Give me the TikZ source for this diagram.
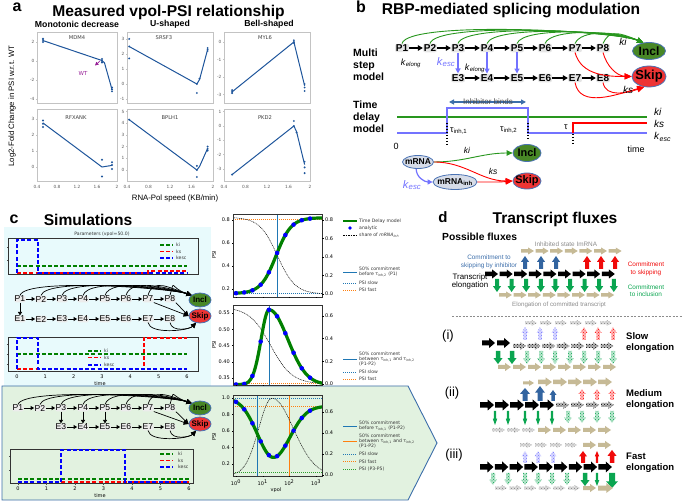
\documentclass[tikz,border=0pt]{standalone}
\usepackage{fontspec}
\setmainfont{Liberation Sans}
\newfontfamily\mpl{DejaVu Sans}
\usetikzlibrary{arrows.meta,patterns,shapes.geometric,calc}
\definecolor{dblue}{RGB}{30,85,155}
\definecolor{inclg}{RGB}{72,135,38}
\definecolor{skipr}{RGB}{238,52,52}
\definecolor{kblue}{RGB}{115,115,255}
\definecolor{ellb}{RGB}{75,115,180}
\definecolor{mrnaf}{RGB}{214,220,232}
\definecolor{tanc}{RGB}{198,186,150}
\definecolor{fblue}{RGB}{50,100,160}
\definecolor{fred}{RGB}{240,10,10}
\definecolor{fgreen}{RGB}{10,165,80}
\definecolor{cyanbg}{RGB}{232,250,252}
\definecolor{greenbg}{RGB}{226,242,224}
\definecolor{tabblue}{RGB}{31,119,180}
\definecolor{taborange}{RGB}{255,127,14}
\definecolor{tabgreen}{RGB}{44,160,44}
\definecolor{tickgray}{RGB}{90,90,90}
\definecolor{framegray}{RGB}{195,195,195}
\definecolor{steel}{RGB}{60,110,170}
\definecolor{magent}{RGB}{150,30,150}
\definecolor{arcg}{RGB}{40,150,30}
\definecolor{psig}{RGB}{0,128,0}
\newcommand\kk[1]{\textit{k}\textsubscript{\textit{#1}}}
\newcommand\RA[5]{\path[#5] (#1,#2-#4*0.25) -- (#1+#3*0.55,#2-#4*0.25) -- (#1+#3*0.55,#2-#4*0.5) -- (#1+#3,#2) -- (#1+#3*0.55,#2+#4*0.5) -- (#1+#3*0.55,#2+#4*0.25) -- (#1,#2+#4*0.25) -- cycle;}
\newcommand\UA[5]{\path[#5] (#1-#4*0.25,#2) -- (#1-#4*0.25,#2-#3*0.55) -- (#1-#4*0.5,#2-#3*0.55) -- (#1,#2-#3) -- (#1+#4*0.5,#2-#3*0.55) -- (#1+#4*0.25,#2-#3*0.55) -- (#1+#4*0.25,#2) -- cycle;}
\newcommand\DA[5]{\path[#5] (#1-#4*0.25,#2) -- (#1-#4*0.25,#2+#3*0.55) -- (#1-#4*0.5,#2+#3*0.55) -- (#1,#2+#3) -- (#1+#4*0.5,#2+#3*0.55) -- (#1+#4*0.25,#2+#3*0.55) -- (#1+#4*0.25,#2) -- cycle;}
\begin{document}
\begin{tikzpicture}[x=1pt,y=-1pt,
  plet/.style={font=\fontsize{16}{18}\selectfont\bfseries,inner sep=0},
  ttl/.style={font=\fontsize{15.6}{18}\selectfont\bfseries,inner sep=0},
  colh/.style={font=\fontsize{8.7}{10}\selectfont\bfseries,inner sep=0},
  abox/.style={draw=framegray,line width=0.5pt},
  atick/.style={font=\mpl\fontsize{4.3}{5}\selectfont,text=tickgray,inner sep=0},
  aline/.style={dblue,line width=1pt},
  adot/.style={fill=dblue},
  gname/.style={font=\mpl\fontsize{5.2}{6}\selectfont,text=black!75,inner sep=0},
  pn/.style={font=\fontsize{10}{12}\selectfont\bfseries,fill=gray!20,rounded corners=2pt,inner sep=0.8pt},
  trib/.style={-{Triangle[length=5pt,width=5.5pt]},line width=1.6pt},
  garc/.style={draw=arcg,line width=0.9pt,-{Triangle[length=6pt,width=5.5pt]}},
  rarc/.style={draw=red,line width=0.9pt,-{Triangle[length=7pt,width=6pt]}},
  kesca/.style={draw=kblue,line width=1.2pt,-{Triangle[length=5pt,width=5pt]}},
  ell/.style={ellipse,draw=ellb,line width=0.8pt,inner sep=0},
  lbl/.style={inner sep=0},
  cpn/.style={font=\fontsize{8.6}{10}\selectfont,fill=gray!15,rounded corners=1.5pt,inner sep=0.4pt},
  ctri/.style={-{Triangle[length=3.5pt,width=4pt]},line width=0.8pt},
  carc/.style={line width=0.7pt,-{Triangle[length=5pt,width=5pt]}},
  kl/.style={line width=1.7pt,dash pattern=on 4pt off 2.2pt},
  leg/.style={font=\mpl\fontsize{4.6}{5.2}\selectfont,text=black!80,inner sep=0,anchor=west},
  ptick/.style={font=\mpl\fontsize{5}{6}\selectfont,inner sep=0},
  pframe/.style={draw=black!80,line width=0.6pt},
  dotl/.style={line width=0.8pt,dash pattern=on 1pt off 1pt},
  hatch/.style={preaction={fill=#1!28},pattern=crosshatch dots,pattern color=#1},
  flx/.style={font=\fontsize{6.4}{7.4}\selectfont,inner sep=0,align=center},
  elab/.style={font=\fontsize{9.5}{11}\selectfont\bfseries,inner sep=0,align=left,anchor=west},
  roman/.style={font=\fontsize{13}{15}\selectfont,inner sep=0}
]
\useasboundingbox (0,0) rectangle (683,502);
% ---------- backgrounds ----------
\fill[cyanbg] (4,227) rectangle (211,386);
\path[fill=greenbg,draw=steel,line width=0.9pt] (2,386) -- (408,386) -- (437,443) -- (408,500) -- (2,500) -- cycle;

% ================= PANEL A =================
\node[plet] (la) at (17,7) {a};
\node[ttl] (ta) at (168.5,12) {Measured vpol-PSI relationship};
\node[colh] (h1) at (77,24) {Monotonic decrease};
\node[colh] (h2) at (170,24) {U-shaped};
\node[colh] (h3) at (269,24) {Bell-shaped};
\node[rotate=90,font=\fontsize{7.8}{9}\selectfont,inner sep=0] (aylab) at (12,106) {Log2-Fold Change in PSI w.r.t. WT};
\node[font=\fontsize{7.8}{9}\selectfont,inner sep=0] (axlab) at (175,198) {RNA-Pol speed (KB/min)};
% frames
\draw[abox] (37,32) rectangle (117,103);
\draw[abox] (127,32) rectangle (213,103);
\draw[abox] (224,32) rectangle (310,103);
\draw[abox] (37,109) rectangle (117,181);
\draw[abox] (127,109) rectangle (213,181);
\draw[abox] (224,109) rectangle (310,181);
% gene names
\node[gname] (g1) at (77,38) {MDM4};
\node[gname] (g2) at (164,38) {SRSF3};
\node[gname] (g3) at (265,38) {MYL6};
\node[gname] (g4) at (76,118) {RFXANK};
\node[gname] (g5) at (170,118) {BPLH1};
\node[gname] (g6) at (265,118) {PKD2};
% y ticks
\foreach \v in {2,0,-2,-4} {\draw[framegray] ({37},{61-9.5*(\v)}) -- ++(-1.5,0); \node[atick,anchor=east] at ({34.5},{61-9.5*(\v)}) {\v};}
\foreach \v in {3,2,1,0,-1} {\draw[framegray] ({127},{84-15*(\v)}) -- ++(-1.5,0); \node[atick,anchor=east] at ({124.5},{84-15*(\v)}) {\v};}
\foreach \v in {0,-1,-2,-3} {\draw[framegray] ({224},{42-17.5*(\v)}) -- ++(-1.5,0); \node[atick,anchor=east] at ({221.5},{42-17.5*(\v)}) {\v};}
\foreach \v in {3,2,1,0} {\draw[framegray] ({37},{167-16*(\v)}) -- ++(-1.5,0); \node[atick,anchor=east] at ({34.5},{167-16*(\v)}) {\v};}
\foreach \v in {5,4,3,2,1,0} {\draw[framegray] ({127},{170-11.7*(\v)}) -- ++(-1.5,0); \node[atick,anchor=east] at ({124.5},{170-11.7*(\v)}) {\v};}
\foreach \v in {1,0,-1,-2,-3} {\draw[framegray] ({224},{126-14.3*(\v)}) -- ++(-1.5,0); \node[atick,anchor=east] at ({221.5},{126-14.3*(\v)}) {\v};}
% x ticks
\foreach \xa/\k in {37/50,127/53.75,224/53.75} {
  \foreach \v/\l in {0.4/0.4,0.8/0.8,1.2/1.2,1.6/1.6,2.0/2} {
    \draw[framegray] ({\xa+\k*(\v-0.4)},103) -- ++(0,1.5);
    \draw[framegray] ({\xa+\k*(\v-0.4)},181) -- ++(0,1.5);
    \node[atick] at ({\xa+\k*(\v-0.4)},187) {\l};
  }
}
% data MDM4
\begin{scope}[shift={(37,61)},x=50pt,y=9.5pt,shift={(-0.4,0)}]
\draw[aline] (0.52,2.15) -- (1.7,0.05) -- (1.75,-0.2) -- (1.9,-3.0);
\foreach \a/\b in {0.52/2.35,0.52/2.2,0.52/2.0,1.7/0.2,1.7/0,1.7/-0.15,1.9/-2.8,1.9/-3.0,1.9/-3.2} \fill[adot] (\a,\b) circle (1.1pt);
\end{scope}
% SRSF3
\begin{scope}[shift={(127,84)},x=53.75pt,y=15pt,shift={(-0.4,0)}]
\draw[aline] (0.44,2.5) -- (1.7,0) -- (1.75,0.3) -- (1.9,2.3);
\foreach \a/\b in {0.44/3.0,0.44/2.5,0.44/1.7,1.7/0,1.7/-0.6,1.75/0.35,1.9/2.2,1.9/2.3,1.9/2.4} \fill[adot] (\a,\b) circle (1.1pt);
\end{scope}
% MYL6
\begin{scope}[shift={(224,42)},x=53.75pt,y=17.5pt,shift={(-0.4,0)}]
\draw[aline] (0.55,-2.85) -- (1.7,0.0) -- (1.9,-2.5);
\foreach \a/\b in {0.55/-2.75,0.55/-2.85,0.55/-2.92,1.7/0.1,1.7/0.0,1.7/-0.05,1.9/-2.4,1.9/-2.6,1.9/-2.8} \fill[adot] (\a,\b) circle (1.1pt);
\end{scope}
% RFXANK
\begin{scope}[shift={(37,167)},x=50pt,y=16pt,shift={(-0.4,0)}]
\draw[aline] (0.52,2.75) -- (1.7,0.0) -- (1.9,0.1);
\foreach \a/\b in {0.52/2.9,0.52/2.7,0.52/2.5,1.7/0.45,1.7/-0.6,1.9/0.3,1.9/0.12,1.9/-0.12} \fill[adot] (\a,\b) circle (1.1pt);
\end{scope}
% BPLH1
\begin{scope}[shift={(127,170)},x=53.75pt,y=11.7pt,shift={(-0.4,0)}]
\draw[aline] (0.44,4.3) -- (1.7,0) -- (1.75,0.3) -- (1.9,1.85);
\foreach \a/\b in {0.44/4.3,1.7/0.35,1.7/-0.6,1.7/0,1.9/2.0,1.9/1.8,1.9/1.65} \fill[adot] (\a,\b) circle (1.1pt);
\end{scope}
% PKD2
\begin{scope}[shift={(224,126)},x=53.75pt,y=14.3pt,shift={(-0.4,0)}]
\draw[aline] (0.55,-3.4) -- (1.7,0.0) -- (1.75,-0.4) -- (1.9,-2.7);
\foreach \a/\b in {0.55/-3.4,1.7/0.35,1.7/0,1.75/-0.45,1.9/-2.5,1.9/-2.9,1.9/-3.3} \fill[adot] (\a,\b) circle (1.1pt);
\end{scope}
\draw[magent,-{Triangle[length=3.5pt,width=3.5pt]},line width=0.6pt] (100,61) -- (95,65.5);
\node[text=magent,font=\mpl\fontsize{5.5}{6}\selectfont,inner sep=0] (wt) at (83,73) {WT};

% ================= PANEL B =================
\node[plet] (lb) at (361,6.5) {b};
\node[ttl] (tb) at (511,11) {RBP-mediated splicing modulation};
\node[anchor=west,align=left,font=\fontsize{10.5}{12}\selectfont\bfseries,inner sep=0] (mlab) at (353,65) {Multi\\step\\model};
\node[anchor=west,align=left,font=\fontsize{10.5}{12}\selectfont\bfseries,inner sep=0] (tlab) at (353,116.5) {Time\\delay\\model};
\foreach \i/\x in {1/402,2/430,3/458,4/487,5/517,6/545,7/575,8/603} \node[pn] (bP\i) at (\x,48) {P\i};
\foreach \i/\x in {3/458,4/487,5/517,6/545,7/575,8/603} \node[pn] (bE\i) at (\x,78) {E\i};
\foreach \i in {1,...,7} {\pgfmathtruncatemacro\j{\i+1}\draw[trib] (bP\i) -- (bP\j);}
\foreach \i in {3,...,7} {\pgfmathtruncatemacro\j{\i+1}\draw[trib] (bE\i) -- (bE\j);}
\node[ell,fill=inclg,minimum width=33,minimum height=17] (bIncl) at (649,51) {};
\node[font=\fontsize{12}{13}\selectfont\bfseries,inner sep=0] (bInclT) at (bIncl) {Incl};
\node[ell,fill=skipr,minimum width=34,minimum height=21] (bSkip) at (649,76.5) {};
\node[font=\fontsize{13}{14}\selectfont\bfseries,inner sep=0] (bSkipT) at (bSkip) {Skip};
\foreach \i in {1,...,8} {\pgfmathsetmacro\hh{25-1.6*\i}\draw[garc] (bP\i.north) .. controls +(6,-\hh) and +(-28,-12) .. (bIncl.125);}
\draw[rarc] (bP7.south) to[out=-75,in=180] (bSkip.west);
\draw[rarc] (bP8.south) to[out=-75,in=178] (bSkip.west);
\draw[rarc] (bE7.south) to[out=-80,in=-165] (bSkip.-115);
\draw[rarc] (bE8.south) to[out=-80,in=-160] (bSkip.-115);
\foreach \i in {3,4,5} \draw[kesca] (bP\i) -- (bE\i);
\node[lbl,font=\fontsize{10}{11}\selectfont] (kiB) at (623,42) {\textit{ki}};
\node[lbl,font=\fontsize{10}{11}\selectfont] (ksB) at (628,90) {\textit{ks}};
\node[lbl,font=\fontsize{9}{10}\selectfont] (kel1) at (411,63) {\kk{elong}};
\node[lbl,font=\fontsize{11}{12}\selectfont,text=kblue] (kes1) at (446,62) {\kk{esc}};
\node[lbl,font=\fontsize{9}{10}\selectfont] (kel2) at (475,68) {\kk{elong}};
% time delay
\draw[arcg,line width=1.3pt] (397,117) -- (647,117);
\draw[kblue,line width=1.3pt] (397,133) -- (447,133) -- (447,108) -- (528,108) -- (528,133) -- (647,133);
\draw[red,line width=1.3pt] (573,133) -- (573,123) -- (647,123);
\draw[steel,line width=1.2pt,{Triangle[length=5pt,width=5pt]}-{Triangle[length=5pt,width=5pt]}] (449,102) -- (526,102);
\node[lbl,font=\fontsize{8}{9}\selectfont,text=black!70] (inhb) at (488,102) {Inhibitor binds};
\draw[line width=1.4pt,dash pattern=on 1.5pt off 1.5pt] (447,123) -- (447,146);
\draw[line width=1.4pt,dash pattern=on 1.5pt off 1.5pt] (528,123) -- (528,139);
\draw[line width=1.4pt,dash pattern=on 1.5pt off 1.5pt] (573,134) -- (573,146);
\node[lbl,anchor=west,font=\fontsize{9}{10}\selectfont] (tau1) at (450,131) {τ\textsubscript{inh,1}};
\node[lbl,anchor=west,font=\fontsize{9}{10}\selectfont] (tau2) at (500,130) {τ\textsubscript{inh,2}};
\node[lbl,font=\fontsize{9}{10}\selectfont] (tau) at (566,127) {τ};
\node[lbl,font=\fontsize{9}{10}\selectfont] (zero) at (396,146) {0};
\node[lbl,font=\fontsize{9}{10}\selectfont] (time) at (636,149) {time};
\node[lbl,anchor=west,font=\fontsize{10}{11}\selectfont] (rki) at (654,112) {\textit{ki}};
\node[lbl,anchor=west,font=\fontsize{10}{11}\selectfont] (rks) at (654,124) {\textit{ks}};
\node[lbl,anchor=west,font=\fontsize{10}{11}\selectfont] (rke) at (654,137) {\kk{esc}};
% mRNA model
\node[ell,fill=mrnaf,minimum width=31,minimum height=13] (mR) at (418,162) {};
\node[lbl,font=\fontsize{8.5}{9}\selectfont\bfseries] (mRT) at (mR) {mRNA};
\node[ell,fill=mrnaf,minimum width=44,minimum height=15] (mI) at (455,182) {};
\node[lbl,font=\fontsize{8.5}{9}\selectfont\bfseries] (mIT) at (mI) {mRNA\textsubscript{inh}};
\node[ell,fill=inclg,minimum width=28,minimum height=17] (I2) at (527,153) {};
\node[lbl,font=\fontsize{11}{12}\selectfont\bfseries] (I2T) at (I2) {Incl};
\node[ell,fill=skipr,minimum width=28,minimum height=16] (S2) at (527,181) {};
\node[lbl,font=\fontsize{11}{12}\selectfont\bfseries] (S2T) at (S2) {Skip};
\draw[garc] (mR.east) to[out=0,in=180] (I2.west);
\draw[rarc] (mR.east) to[out=0,in=180] (S2.west);
\draw[rarc] (mI.east) to[out=0,in=185] (S2.west);
\draw[kesca] (mR.255) to[out=-90,in=180] (mI.west);
\node[lbl,font=\fontsize{8.5}{9}\selectfont] (ki2) at (467,150) {\textit{ki}};
\node[lbl,font=\fontsize{8.5}{9}\selectfont] (ks2) at (493,171) {\textit{ks}};
\node[lbl,font=\fontsize{11}{12}\selectfont,text=kblue] (ke2) at (412,185) {\kk{esc}};

% ================= PANEL C =================
\node[plet] (lc) at (14,219) {c};
\node[ttl] (tc) at (88,220) {Simulations};
% top timeline
\node[leg,anchor=center] (partl) at (102,234) {Parameters (vpol=50.0)};
\draw[pframe] (8,238) rectangle (198,274);
\foreach \yy in {247,260} \draw[black!70] (8,\yy) -- ++(-1.5,0);
\draw[kl,psig] (17,266) -- (187,266);
\draw[kl,red] (17,273) -- (148,273) -- (148,271) -- (187,271);
\draw[kl,blue] (17,273) -- (17,240) -- (38,240) -- (38,273) -- (187,273);
\draw[kl,psig] (160,245) -- (173,245); \node[leg] (l1a) at (176,245) {ki};
\draw[kl,red] (160,251.5) -- (173,251.5); \node[leg] (l1b) at (176,251.5) {ks};
\draw[kl,blue] (160,258) -- (173,258); \node[leg] (l1c) at (176,258) {kesc};
% network 1
\foreach \i/\x in {1/20,2/41,3/62,4/83,5/105,6/126,7/148,8/170} {\node[cpn] (cP\i) at (\x,299) {P\i}; \node[cpn] (cE\i) at (\x,319) {E\i};}
\foreach \i in {1,...,7} {\pgfmathtruncatemacro\j{\i+1}\draw[ctri] (cP\i) -- (cP\j); \draw[ctri] (cE\i) -- (cE\j);}
\draw[ctri] (cP1) -- (cE1);
\node[ell,fill=inclg,minimum width=22,minimum height=14] (cIncl) at (200,300) {};
\node[lbl,font=\fontsize{8}{9}\selectfont\bfseries] at (cIncl) {Incl};
\node[ell,fill=skipr,minimum width=22,minimum height=14] (cSkip) at (200,316) {};
\node[lbl,font=\fontsize{8}{9}\selectfont\bfseries] at (cSkip) {Skip};
\foreach \i in {1,...,8} \draw[carc] (cP\i.north) .. controls +(5,-18) and +(-22,-7) .. (cIncl.150);
\draw[carc] (cP7.south east) -- (cSkip.west);
\draw[carc] (cP8.south east) -- (cSkip.west);
\draw[carc] (cE7.south) .. controls +(2,12) and +(-8,8) .. (cSkip.-120);
\draw[carc] (cE8.south) .. controls +(2,10) and +(-6,6) .. (cSkip.-120);
% middle timeline
\draw[pframe] (8,337) rectangle (198,371);
\foreach \yy in {344,354,364} \draw[black!70] (8,\yy) -- ++(-1.5,0);
\foreach \i in {0,...,6} {\draw[black!70] (17+28.33*\i,371) -- ++(0,1.5); \node[ptick] at (17+28.33*\i,377) {\i};}
\node[ptick] (tm1) at (100,384) {time};
\draw[kl,psig] (17,354) -- (187,354);
\draw[kl,red] (17,369) -- (144,369) -- (144,338) -- (187,338);
\draw[kl,blue] (17,369) -- (17,338) -- (38,338) -- (38,369) -- (187,369);
\draw[kl,psig] (88,351) -- (101,351); \node[leg] (l2a) at (104,351) {ki};
\draw[kl,red] (88,357.5) -- (101,357.5); \node[leg] (l2b) at (104,357.5) {ks};
\draw[kl,blue] (88,365) -- (101,365); \node[leg] (l2c) at (104,365) {kesc};
% network 2 (green region)
\foreach \i/\x in {1/18,2/40,3/61,4/83,5/105,6/126,7/148,8/170} \node[cpn] (gP\i) at (\x,408) {P\i};
\foreach \i/\x in {3/61,4/83,5/105,6/126,7/148,8/170} \node[cpn] (gE\i) at (\x,427) {E\i};
\foreach \i in {1,...,7} {\pgfmathtruncatemacro\j{\i+1}\draw[ctri] (gP\i) -- (gP\j);}
\foreach \i in {3,...,7} {\pgfmathtruncatemacro\j{\i+1}\draw[ctri] (gE\i) -- (gE\j);}
\foreach \i in {3,4,5} \draw[ctri] (gP\i) -- (gE\i);
\node[ell,fill=inclg,minimum width=22,minimum height=14] (gIncl) at (200,408) {};
\node[lbl,font=\fontsize{8}{9}\selectfont\bfseries] at (gIncl) {Incl};
\node[ell,fill=skipr,minimum width=22,minimum height=14] (gSkip) at (200,424) {};
\node[lbl,font=\fontsize{8}{9}\selectfont\bfseries] at (gSkip) {Skip};
\foreach \i in {1,...,8} \draw[carc] (gP\i.north) .. controls +(5,-17) and +(-22,-7) .. (gIncl.150);
\draw[carc] (gP7.south east) -- (gSkip.west);
\draw[carc] (gP8.south east) -- (gSkip.west);
\draw[carc] (gE7.south) .. controls +(2,12) and +(-8,8) .. (gSkip.-120);
\draw[carc] (gE8.south) .. controls +(2,10) and +(-6,6) .. (gSkip.-120);
% bottom timeline
\draw[pframe] (10,449) rectangle (193,483);
\foreach \yy in {456,470} \draw[black!70] (10,\yy) -- ++(-1.5,0);
\foreach \i in {0,...,6} {\draw[black!70] (18+28.5*\i,483) -- ++(0,1.5); \node[ptick] at (18+28.5*\i,488.5) {\i};}
\node[ptick] (tm2) at (100,496) {time};
\draw[kl,psig] (18,479) -- (189,479);
\draw[kl,red] (18,482) -- (189,482);
\draw[kl,blue] (18,482) -- (61,482) -- (61,450) -- (125,450) -- (125,482) -- (189,482);
\draw[kl,psig] (160,454) -- (173,454); \node[leg] (l3a) at (178,454) {ki};
\draw[kl,red] (160,460.5) -- (173,460.5); \node[leg] (l3b) at (178,460.5) {ks};
\draw[kl,blue] (160,467) -- (173,467); \node[leg] (l3c) at (178,467) {kesc};

% ---- right plots ----
% plot 1
\begin{scope}
\clip (233,214) rectangle (322,297);
\draw[tabblue,dotl] (233,293) -- (322,293);
\draw[taborange,dotl] (233,219) -- (322,219);
\draw[tabblue,line width=0.7pt] (277,214) -- (277,297);
\draw[black,line width=0.5pt,dash pattern=on 1pt off 0.8pt] plot[domain=-0.15:3.3,samples=60] ({236+26.7*\x},{294-92.5*0.83/(1+exp(3*(\x-1.55)))});
\draw[psig,line width=3.2pt] plot[domain=-0.15:3.3,samples=60] ({236+26.7*\x},{289-115*(0.16+0.66/(1+exp(-3.5*(\x-1.5)))-0.2)});
\foreach \vv in {0,0.308,0.616,0.924,1.232,1.54,1.848,2.156,2.464,2.772} \fill[blue] ({236+26.7*\vv},{289-115*(0.16+0.66/(1+exp(-3.5*(\vv-1.5)))-0.2)}) circle (2.3pt);
\end{scope}
\draw[pframe] (233,214) rectangle (322,297);
\foreach \yy/\l in {220/0.8,243/0.6,266/0.4,289/0.2} {\draw (233,\yy) -- ++(-1.5,0); \node[ptick,anchor=east] at (230,\yy) {\l};}
\foreach \yy/\l in {220/0.8,238.5/0.6,257/0.4,275.5/0.2,294/0.0} {\draw (322,\yy) -- ++(1.5,0); \node[ptick,anchor=west] at (325,\yy) {\l};}
\foreach \xx in {236,262.7,289.4,316.1} \draw (\xx,297) -- ++(0,1.5);
\node[ptick,rotate=90] (psi1) at (214,255) {PSI};
% plot 2
\begin{scope}
\clip (233,305) rectangle (322,385);
\draw[tabblue,dotl] (233,383) -- (322,383);
\draw[taborange,dotl] (233,383.6) -- (322,383.6);
\draw[tabblue,line width=0.7pt] (269,305) -- (269,385);
\draw[black,line width=0.5pt,dash pattern=on 1pt off 0.8pt] plot[domain=-0.15:3.3,samples=60] ({236+26.7*\x},{384-113*0.68/(1+exp(2.5*(\x-1.3)))});
\draw[psig,line width=3.2pt] plot[domain=-0.15:1.24,samples=40] ({236+26.7*\x},{313+(0.22-0.23*exp(0-(\x-1.24)*(\x-1.24)/0.18))*325}) -- plot[domain=1.24:3.3,samples=40] ({236+26.7*\x},{313+(0.22-0.23*exp(0-(\x-1.24)*(\x-1.24)/0.98))*325});
\foreach \vv in {0,0.308,0.616,0.924,1.232,1.54,1.848,2.156,2.464,2.772} {
  \pgfmathsetmacro\ss{\vv<1.24 ? 0.18 : 0.98}
  \pgfmathsetmacro\yy{313+(0.22-0.23*exp(0-(\vv-1.24)*(\vv-1.24)/\ss))*325}
  \fill[blue] ({236+26.7*\vv},\yy) circle (2.3pt);}
\end{scope}
\draw[pframe] (233,305) rectangle (322,385);
\foreach \yy/\l in {313/0.55,329.25/0.50,345.5/0.45,361.75/0.40,378/0.35} {\draw (233,\yy) -- ++(-1.5,0); \node[ptick,anchor=east] at (230,\yy) {\l};}
\foreach \yy/\l in {316/0.6,338.7/0.4,361.3/0.2,384/0.0} {\draw (322,\yy) -- ++(1.5,0); \node[ptick,anchor=west] at (325,\yy) {\l};}
\foreach \xx in {236,262.7,289.4,316.1} \draw (\xx,385) -- ++(0,1.5);
\node[ptick,rotate=90] (psi2) at (214,345) {PSI};
% plot 3
\begin{scope}
\clip (233,395) rectangle (322,476);
\draw[tabblue,dotl] (233,398) -- (322,398);
\draw[taborange,dotl] (233,406) -- (322,406);
\draw[tabgreen,dotl] (233,472) -- (322,472);
\draw[tabblue,line width=0.7pt] (257,395) -- (257,476);
\draw[taborange,line width=0.7pt] (289,395) -- (289,476);
\draw[black,line width=0.5pt,dash pattern=on 1pt off 0.8pt] plot[domain=-0.15:1.35,samples=40] ({236+26.7*\x},{475-105*0.73*exp(0-(\x-1.35)*(\x-1.35)/0.5)}) -- plot[domain=1.35:3.3,samples=40] ({236+26.7*\x},{475-105*0.73*exp(0-(\x-1.35)*(\x-1.35)/1.28)});
\draw[psig,line width=3.2pt] plot[domain=-0.15:1.4,samples=40] ({236+26.7*\x},{398+(0.72-0.72*(1-exp(0-(\x-1.4)*(\x-1.4)/0.72)))*82.5}) -- plot[domain=1.4:3.3,samples=40] ({236+26.7*\x},{398+(0.72-0.62*(1-exp(0-(\x-1.4)*(\x-1.4)/0.77)))*82.5});
\foreach \vv in {0,0.308,0.616,0.924,1.232,1.54,1.848,2.156,2.464,2.772} {
  \pgfmathsetmacro\aa{\vv<1.4 ? 0.72 : 0.62}
  \pgfmathsetmacro\ss{\vv<1.4 ? 0.72 : 0.77}
  \pgfmathsetmacro\yy{398+(0.72-\aa*(1-exp(0-(\vv-1.4)*(\vv-1.4)/\ss)))*82.5}
  \fill[blue] ({236+26.7*\vv},\yy) circle (2.3pt);}
\end{scope}
\draw[pframe] (233,395) rectangle (322,476);
\foreach \yy/\l in {398/1.0,414.5/0.8,431/0.6,447.5/0.4,464/0.2} {\draw (233,\yy) -- ++(-1.5,0); \node[ptick,anchor=east] at (230,\yy) {\l};}
\foreach \yy/\l in {412/0.6,433/0.4,454/0.2,475/0.0} {\draw (322,\yy) -- ++(1.5,0); \node[ptick,anchor=west] at (325,\yy) {\l};}
\foreach \xx/\e in {236/0,262.7/1,289.4/2,316.1/3} {\draw (\xx,476) -- ++(0,1.5); \node[ptick] at (\xx,482.5) {10\textsuperscript{\e}};}
\node[ptick,rotate=90] (psi3) at (214,437) {PSI};
\node[ptick] (vpol) at (276,490) {vpol};
% legends
\draw[psig,line width=2.2pt] (343,221) -- (357,221); \node[leg] (lg1) at (359,221) {Time Delay model};
\fill[blue] (350,228) circle (1.8pt); \node[leg] (lg2) at (359,228) {analytic};
\draw[black,line width=0.5pt,dash pattern=on 1.5pt off 1pt] (343,235) -- (357,235); \node[leg] (lg3) at (359,235) {share of \textit{mRNA}\textsubscript{\textit{inh}}};
\draw[tabblue,line width=0.8pt] (343,272) -- (357,272); \node[leg,align=left] (lg4) at (359,272) {50\% commitment\\before τ\textsubscript{inh,2} (P1)};
\draw[tabblue,dotl] (343,283) -- (357,283); \node[leg] (lg5) at (359,283) {PSI slow};
\draw[taborange,dotl] (343,290) -- (357,290); \node[leg] (lg6) at (359,290) {PSI fast};
\draw[tabblue,line width=0.8pt] (343,359) -- (357,359); \node[leg,align=left] (lg7) at (359,359) {50\% commitment\\between τ\textsubscript{inh,1} and τ\textsubscript{inh,2}\\(P1-P2)};
\draw[tabblue,dotl] (343,372) -- (357,372); \node[leg] (lg8) at (359,372) {PSI slow};
\draw[taborange,dotl] (343,379) -- (357,379); \node[leg] (lg9) at (359,379) {PSI fast};
\draw[tabblue,line width=0.8pt] (343,426) -- (357,426); \node[leg,align=left] (lg10) at (359,426) {50\% commitment\\before τ\textsubscript{inh,1} (P1-P2)};
\draw[taborange,line width=0.8pt] (343,441) -- (357,441); \node[leg,align=left] (lg11) at (359,441) {50\% commitment\\between τ\textsubscript{inh,1} and τ\textsubscript{inh,2}\\(P1-P2)};
\draw[tabblue,dotl] (343,454) -- (357,454); \node[leg] (lg12) at (359,454) {PSI slow};
\draw[taborange,dotl] (343,461.5) -- (357,461.5); \node[leg] (lg13) at (359,461.5) {PSI fast};
\draw[tabgreen,dotl] (343,469) -- (357,469); \node[leg] (lg14) at (359,469) {PSI (P3-P5)};

% ================= PANEL D =================
\node[font=\fontsize{15}{17}\selectfont\bfseries,inner sep=0] (ld) at (443,217) {d};
\node[ttl] (td) at (555,219) {Transcript fluxes};
\node[anchor=west,font=\fontsize{10.3}{12}\selectfont\bfseries,inner sep=0] (pf) at (442,237) {Possible fluxes};
\node[flx,text=black!45] (inhs) at (566,244) {Inhibited state ImRNA};
\foreach \k in {0,...,6} {\RA{521+14.6*\k}{251}{13}{7}{fill=tanc}}
\foreach \x in {525,541,556} {\UA{\x}{269}{13}{8}{fill=fblue}}
\foreach \x in {587,601,615} {\UA{\x}{269}{13}{8}{fill=fred}}
\foreach \k in {0,...,8} {\RA{485+14.6*\k}{274}{13}{9}{fill=black}}
\foreach \k in {0,...,8} {\DA{497+14.6*\k}{279}{13}{8}{fill=fgreen}}
\foreach \k in {0,...,7} {\RA{499+14.6*\k}{295}{13}{7}{fill=tanc}}
\node[flx,text=steel] (cski) at (489,262) {Commitment to\\skipping by inhibitor};
\node[font=\fontsize{7.9}{7.4}\selectfont,inner sep=0,align=center] (tel) at (470,281.5) {Transcript\\elongation};
\node[flx,text=fred] (csk) at (646,269) {Commitment\\to skipping};
\node[flx,text=fgreen] (cin) at (646,290.5) {Commitment\\to inclusion};
\node[flx,text=black!45,font=\fontsize{6.2}{7}\selectfont] (eoc) at (559,305) {Elongation of committed transcript};
\draw[black!45,line width=0.5pt,dash pattern=on 2pt off 1.5pt] (452,316) -- (683,316);
% (i)
\node[roman] (r1) at (448,336) {(i)};
\foreach \k in {0,...,5} {\RA{525+15*\k}{323}{12}{6}{hatch=gray}}
\foreach \x in {525,540,555} {\UA{\x}{340}{13}{7}{hatch=kblue}}
\foreach \x in {584,598,613} {\UA{\x}{340}{13}{7}{hatch=red}}
\RA{482}{343}{13}{10}{fill=black} \RA{497}{343}{13}{10}{fill=black}
\foreach \k in {0,...,6} {\RA{513+14.6*\k}{346}{13}{8}{hatch=black}}
\DA{498}{351}{13}{9}{fill=fgreen} \DA{512}{351}{13}{9}{fill=fgreen}
\foreach \x in {527,541,555,570,584,598,613} {\DA{\x}{351}{13}{8}{hatch=fgreen}}
\foreach \k in {0,...,7} {\RA{498+15*\k}{367}{13}{8}{fill=tanc}}
\node[elab] (slow) at (626,342.5) {Slow\\elongation};
% (ii)
\node[roman] (r2) at (452,393) {(ii)};
\RA{523}{383}{11}{6}{fill=tanc}
\foreach \k in {1,...,5} {\RA{523+15*\k}{382}{14}{9}{fill=tanc}}
\UA{525}{401}{13}{10}{fill=fblue} \UA{540}{401}{15}{10}{fill=fblue} \UA{553}{401}{11}{7}{fill=fblue}
\foreach \x in {582,597,612} {\UA{\x}{400}{11}{7}{hatch=red}}
\foreach \k in {0,...,4} {\RA{480+15*\k}{405}{14}{11}{fill=black}}
\foreach \k in {0,...,3} {\RA{556+15*\k}{405}{13}{8}{hatch=black}}
\foreach \x in {495,508,525,538,552} {\DA{\x}{411}{14}{4.5}{fill=fgreen}}
\foreach \x in {568,582,597,612} {\DA{\x}{411}{12}{8}{hatch=fgreen}}
\foreach \k in {0,1,2} {\RA{492+15*\k}{430}{13}{6}{hatch=gray}}
\foreach \k in {0,...,4} {\RA{538+15*\k}{430}{13}{8}{fill=tanc}}
\node[elab] (med) at (626,400) {Medium\\elongation};
% (iii)
\node[roman] (r3) at (454,455) {(iii)};
\foreach \k in {0,...,3} {\RA{520+15*\k}{445}{12}{6}{hatch=gray}}
\RA{583}{445}{13}{8}{fill=tanc} \RA{598}{445}{13}{8}{fill=tanc}
\foreach \x in {525,538,553} {\UA{\x}{463}{12}{7}{hatch=kblue}}
\UA{583}{463}{12}{8}{fill=fred} \UA{597}{463}{12}{4.5}{fill=fred} \UA{612}{463}{13}{9}{fill=fred}
\foreach \k in {0,...,8} {\RA{480+14.8*\k}{467}{13.5}{11}{fill=black}}
\foreach \x in {493,508,525,538,552,567} {\DA{\x}{473}{12}{8}{hatch=fgreen}}
\DA{585}{473}{13}{9}{fill=fgreen} \DA{597}{473}{13}{4.5}{fill=fgreen} \DA{612}{473}{15}{12}{fill=fgreen}
\foreach \k in {0,...,5} {\RA{495+14.6*\k}{488}{12}{6}{hatch=gray}}
\RA{583}{488}{13}{8}{fill=tanc} \RA{598}{488}{15}{10}{fill=tanc}
\node[elab] (fast) at (626,462.5) {Fast\\elongation};
\end{tikzpicture}
\end{document}
